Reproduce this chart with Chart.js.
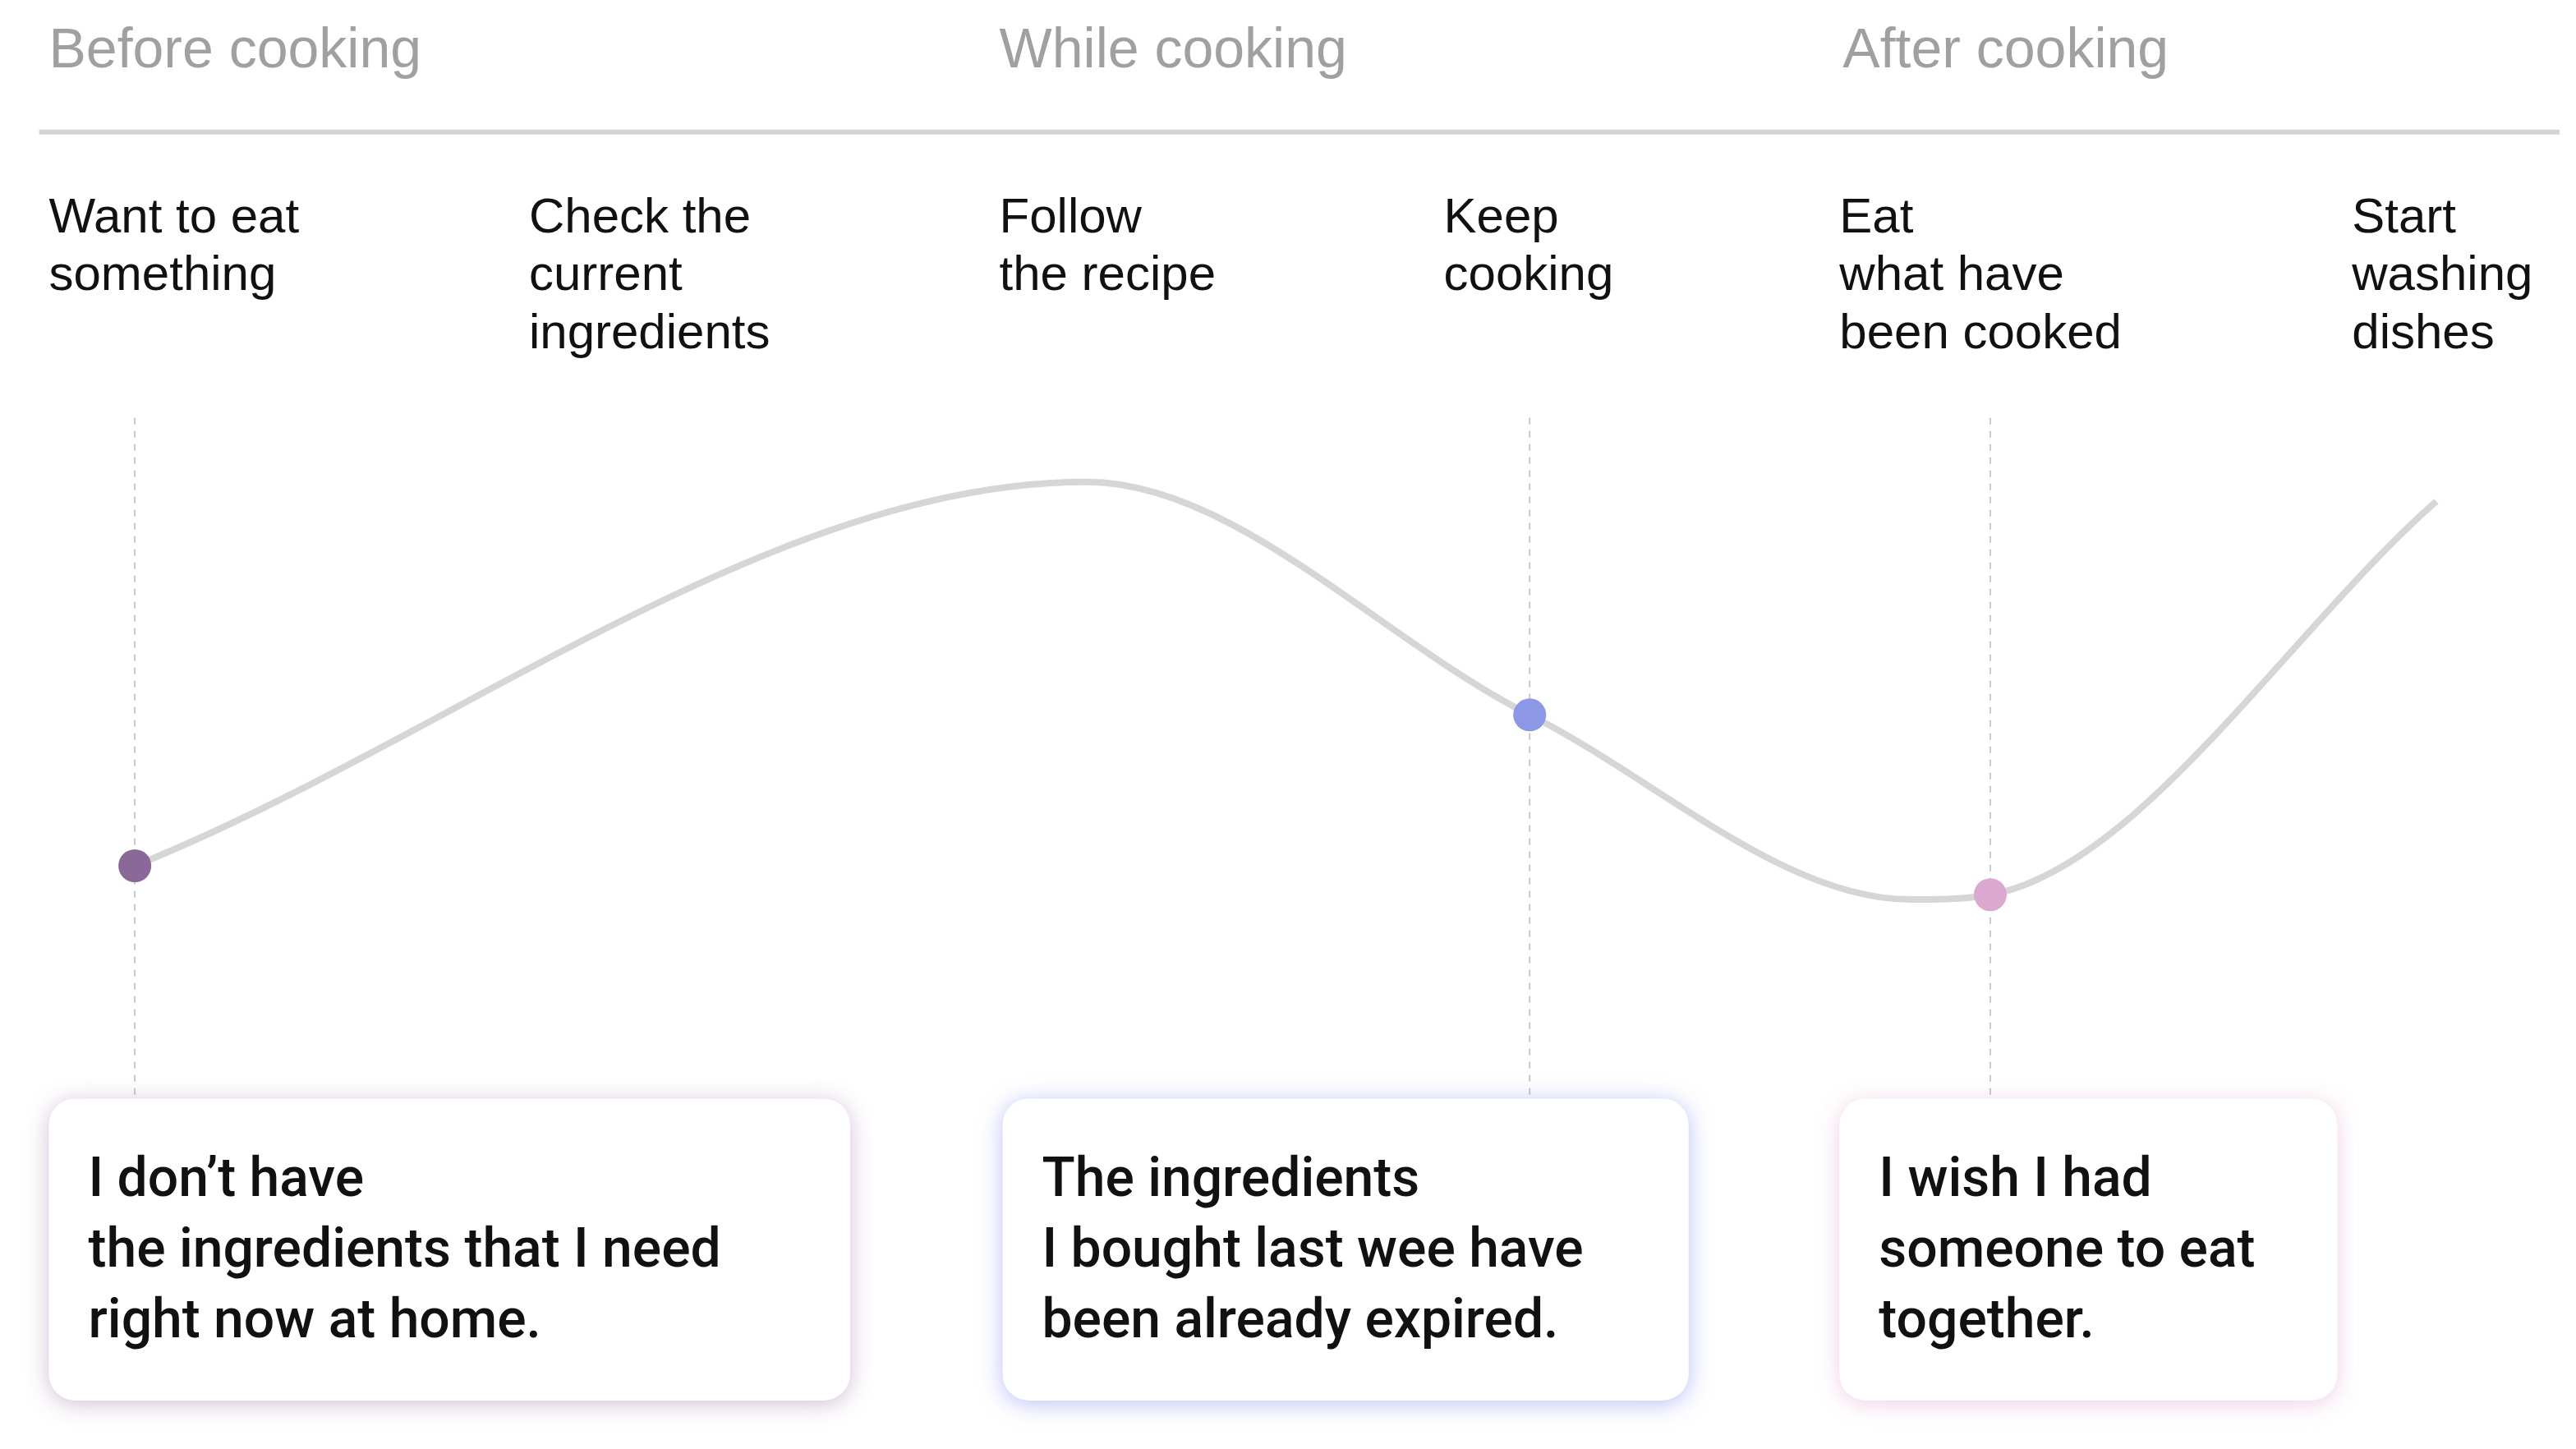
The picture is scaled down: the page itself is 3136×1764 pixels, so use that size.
<!DOCTYPE html>
<html><head><meta charset="utf-8">
<script src="https://cdn.jsdelivr.net/npm/chart.js@4"></script>
<style>html,body{margin:0;padding:0;background:#fff}#c{display:block}</style>
</head><body>
<canvas id="c" width="3136" height="1764"></canvas>
<script>
// Journey curve (x position along journey, y = screen-down feeling units)
const curveX = [73, 660, 933, 1168, 1217, 1492];
const curveY = [529, 290, 435, 550, 547, 302];
const markerX = [73, 933, 1217];
const markerY = [529, 435, 547];
const markerColors = ['#8a6898', '#8d97e8', '#dba8cf'];
const phaseLabels = ['Before cooking', 'While cooking', 'After cooking'];
const phaseX = [20, 606, 1126];
const stepLabels = [['Want to eat','something'],['Check the','current','ingredients'],['Follow','the recipe'],['Keep','cooking'],['Eat','what have','been cooked'],['Start','washing','dishes']];
const stepX = [20, 316, 606, 880, 1124, 1440];
const cardText = [["I don\u2019t have","the ingredients that I need","right now at home."],["The ingredients","I bought last wee have","been already expired."],["I wish I had","someone to eat","together."]];
const cardLeft = [20, 608, 1124];
const cardRight = [514, 1031, 1431];
const cardGlow = ['rgba(150,110,160,0.45)','rgba(120,130,240,0.5)','rgba(220,150,200,0.45)'];

const S = 2;
const deco = {
  id:'deco',
  beforeDatasetsDraw(chart){
    const c = chart.ctx, xs = chart.scales.x, ys = chart.scales.y;
    const X = v => xs.getPixelForValue(v), Y = v => ys.getPixelForValue(v);
    c.save();
    // header
    c.fillStyle = '#a0a0a0'; c.font = `${34*S}px "Liberation Sans", Arial, sans-serif`; c.textBaseline='middle';
    phaseLabels.forEach((t,i)=>c.fillText(t, X(phaseX[i]), Y(22)));
    c.strokeStyle='#d4d4d4'; c.lineWidth=3*S; c.beginPath(); c.moveTo(X(14),Y(72)); c.lineTo(X(1568),Y(72)); c.stroke();
    c.fillStyle='#111'; c.font = `${30*S}px "Liberation Sans", Arial, sans-serif`;
    stepLabels.forEach((ls,i)=>ls.forEach((t,j)=>c.fillText(t, X(stepX[i]), Y(126+36*j))));
    // dashed guides
    c.strokeStyle='#c8c8c8'; c.lineWidth=1*S; c.setLineDash([4*S,4*S]);
    markerX.forEach(x=>{c.beginPath(); c.moveTo(X(x),Y(250)); c.lineTo(X(x),Y(672)); c.stroke();});
    c.setLineDash([]);
    // cards
    cardText.forEach((ls,i)=>{
      const l=X(cardLeft[i]), r=X(cardRight[i]), t=Y(674), b=Y(862);
      c.save(); c.shadowColor=cardGlow[i]; c.shadowBlur=14*S; c.shadowOffsetY=2*S;
      c.fillStyle='#fff'; c.beginPath(); c.roundRect(l,t,r-l,b-t,16*S); c.fill(); c.restore();
      c.fillStyle='#111'; c.font = `500 ${33*S}px Roboto, "Liberation Sans", sans-serif`;
      ls.forEach((s,j)=>c.fillText(s, l+24*S, Y(726+44*j)));
    });
    c.restore();
  }
};

new Chart(document.getElementById('c'), {
  type:'scatter',
  data:{datasets:[
    {data:curveX.map((x,i)=>({x,y:curveY[i]})), showLine:true, borderColor:'#d6d6d6', borderWidth:4*S, pointRadius:0, cubicInterpolationMode:'monotone', order:2},
    {data:markerX.map((x,i)=>({x,y:markerY[i]})), pointBackgroundColor:markerColors, pointBorderWidth:0, pointRadius:10*S, showLine:false, order:1}
  ]},
  options:{responsive:false, devicePixelRatio:1, animation:false, layout:{padding:0},
    plugins:{legend:{display:false}, tooltip:{enabled:false}},
    scales:{x:{type:'linear',min:0,max:1568,display:false}, y:{type:'linear',min:0,max:882,reverse:true,display:false}}},
  plugins:[deco]
});
</script></body></html>
